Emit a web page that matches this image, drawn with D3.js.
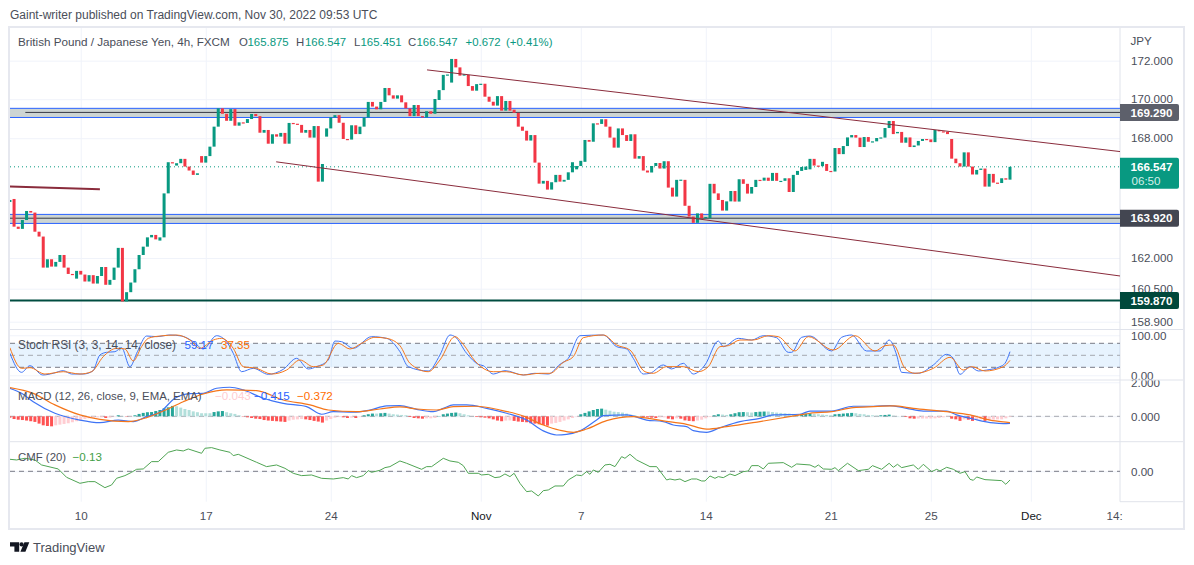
<!DOCTYPE html>
<html>
<head>
<meta charset="utf-8">
<script src="https://cdn.jsdelivr.net/npm/d3@7/dist/d3.min.js"></script>
<style>
    html, body {margin: 0; padding: 0; background: #fff;}
    svg {display: block;}
    text {font-family: "Liberation Sans", sans-serif; font-size: 12px;}
    .axis .domain {display: none;}
    .axis text {fill: #4a4e59; font-size: 11.6px;}
    .grid line {stroke: #f0f3fa;}
    .tag {font-weight: bold; font-size: 11.6px; text-anchor: middle;}
</style>
</head>
<body>
<div id="chart"></div>
<script>
// Candle closes, bar by bar. A bar opens at the previous close unless listed in gapOpens.
var closes = [164.88,163.55,163.44,163.88,164.33,164.25,163.30,163.06,161.53,161.94,
    161.58,161.81,162.15,161.53,161.22,161.19,161.37,161.19,160.85,161.16,
    160.75,161.12,161.56,160.69,160.93,161.53,162.50,159.88,160.33,160.80,
    161.45,162.15,162.56,163.02,163.14,162.92,163.02,165.21,166.78,166.73,
    166.73,166.95,166.56,166.36,166.14,166.22,166.76,167.09,167.57,168.59,
    169.53,169.25,168.89,169.49,168.64,168.81,168.78,168.98,169.24,169.13,
    168.28,168.42,167.72,168.20,168.08,168.27,167.72,168.78,168.74,168.73,
    168.28,168.42,168.03,168.62,165.80,166.69,168.50,169.06,169.18,168.79,
    167.96,167.93,168.66,168.21,168.59,169.06,169.86,169.62,169.48,169.86,
    170.58,170.20,170.03,170.20,169.84,169.53,169.13,169.70,169.13,169.06,
    169.38,169.25,170.01,170.47,171.26,171.28,172.09,171.65,171.22,171.29,
    170.68,170.44,170.78,170.80,170.13,169.87,169.67,170.16,169.41,169.91,
    169.41,169.30,168.59,168.38,167.88,168.16,166.76,165.70,165.84,165.40,
    165.77,166.14,165.80,165.89,166.27,166.78,166.59,166.85,167.91,167.82,
    168.76,168.73,168.97,168.59,168.03,167.52,168.50,168.16,167.86,168.20,
    166.96,167.09,166.36,166.26,166.59,166.74,166.46,166.83,165.50,165.05,
    165.89,165.90,164.59,164.05,163.74,164.21,163.97,164.03,165.69,165.21,
    164.88,164.35,164.81,165.33,164.80,165.92,165.69,165.20,165.53,165.89,
    165.85,166.00,165.84,166.24,165.84,165.84,165.97,165.28,166.14,166.34,
    166.54,166.56,166.95,166.61,166.58,166.80,166.34,166.31,167.50,167.19,
    167.60,168.04,168.16,168.03,167.55,168.06,167.82,167.84,168.01,168.04,
    168.52,168.88,168.21,168.32,167.77,168.04,167.55,167.63,167.86,167.96,
    167.94,167.80,168.42,168.35,168.33,168.21,166.96,166.73,166.56,167.28,
    166.56,166.16,166.39,166.46,165.55,166.19,165.75,165.73,165.97,165.90,
    166.547];

var gapOpens = {0:164.78, 1:164.93, 16:160.99, 36:162.86, 40:166.61, 46:167.09, 70:168.68, 76:168.08,
    103:169.96, 106:170.86, 110:171.26, 121:169.46, 136:166.42, 138:166.80, 162:165.89, 168:163.97,
    191:166.39, 192:166.42, 196:166.69, 210:168.03, 213:168.25, 226:167.96};

var priceTicks = [172, 170, 168, 162, 160.5, 158.9];
var timeTickBars = [17, 47, 77, 113, 137, 167, 197, 221, 245, 265];
var timeTickLabels = ["10", "17", "24", "Nov", "7", "14", "21", "25", "Dec", "14:"];

var lastPrice = 166.547;
var bandTops = [169.53, 164.16];
var bandBottoms = [169.06, 163.71];
var bandMids = [169.32, 163.97];
var bandMidStarts = [3.7, 0];
var floorLevel = 159.93;
var tagPrices = [169.32, 163.97, 159.93];
var tagLabels = ["169.290", "163.920", "159.870"];
var tagColors = ["#5d606b", "#434651", "#00483b"];

// Drawn trend lines: [bar, price] end points
var trendLines = [
    [[100.1, 171.52], [266.4, 167.32]],
    [[63.9, 166.80], [266.4, 161.12]],
    [[0, 165.55], [21.6, 165.42]]
];

// Stoch RSI, read at the turning points: [bar, value]
var stochK = [[0,55],[2.8,7.4],[4.8,24],[7.9,0.8],[10.4,5],[12.8,11.6],[14.8,3.2],[17.6,3.2],[19.9,10.8],[21.6,50.8],
    [23.2,57.4],[25.2,59],[26.8,69],[28.8,21.6],[30.6,59],[32.8,98.2],[35.2,96.6],[38.4,100.7],[41.2,98.2],[44,84],
    [46.4,65.8],[49.6,99],[52,84],[53.6,55],[55.6,9],[58.4,17.4],[62,2.4],[65.6,14.9],[68.8,42.4],[71.6,15.8],
    [73.6,21.6],[76.4,38.2],[78,85.7],[79.6,84],[82.4,67.4],[86.8,96.6],[90.4,92.4],[93.6,59],[95.6,21.6],[100.4,10.8],
    [103.2,50.8],[105.6,100.7],[106.8,96.6],[109.6,55],[112.4,27.4],[113.6,24],[116,3.2],[118.8,11.6],[123.2,0.8],[126,5],
    [129.2,3.2],[132,27.4],[134,42.4],[136.8,99],[142.4,100.7],[145.6,71.6],[148,65.8],[149.6,42.4],[152,3.2],[153.6,5],
    [156.8,25.8],[158.8,15.8],[161.6,30],[164,3.2],[166.8,25.8],[170,85.7],[171.2,71.6],[174.8,92.4],[178,88.2],[180.8,99],
    [184,94],[186.8,57.4],[187.6,57.4],[190,95],[192,98.2],[197.2,60.8],[199.6,95],[202,100.7],[205.6,60.8],[208.8,60.8],
    [211,88.2],[212.8,50.8],[214,7.4],[218,5],[221.6,25.8],[224.8,52.4],[226.4,42.4],[228,2.4],[230.4,21.6],[232.4,10.8],
    [234.4,13.2],[237.6,21.6],[238.8,30],[240,59.17]];

var stochD = [[0,69],[2.8,17.4],[4.8,19],[8.4,3.2],[12.8,9],[16.8,3.2],[19.6,9],[22.4,46.6],[25.6,67.4],[27.6,65.8],
    [29.6,35.8],[31.6,71.6],[33.2,92.4],[36,98.2],[40,100.7],[43.2,88.2],[45.6,67.4],[48.8,88.2],[50.8,92.4],[53.6,67.4],
    [56,21.6],[59.2,17.4],[62.8,3.2],[66.4,13.2],[69.6,38.2],[72.8,21.6],[75.2,25.8],[78.8,80],[81.6,65.8],[84.4,80],
    [87.6,95],[90.4,92.4],[93.6,74],[96,30],[100.4,9],[103.2,38.2],[106.8,96.6],[108.8,77.4],[111.6,35.8],[116,9],
    [119.2,9],[123.2,0.8],[127.2,5],[129.6,5],[132.8,32.4],[135.2,46.6],[137.6,94],[142.4,100.7],[145.6,75.8],[148.8,63.2],
    [152.4,9],[154.4,5],[157.6,21.6],[161.6,21.6],[165.2,9],[167.6,21.6],[170.4,71.6],[172.4,74],[175.2,88.2],[178.4,88.2],
    [182,99],[184.4,96.6],[188.4,60.8],[191.6,96.6],[197.6,63.2],[202.8,99],[207.6,60.8],[210,74],[212,75.8],[214.8,17.4],
    [217.2,5],[221.6,17.4],[225.6,45],[228.8,13.2],[230.8,21.6],[234,10.8],[238.4,21.6],[240,37.35]];

var stochTicks = [100, 0];
var stochBands = [80, 50, 20];

// MACD lines, read at the turning points: [bar, value]
var macdLine = [[0,1.65],[2.8,1.35],[5.6,.86],[10.8,.18],[16.8,-.22],[21.6,-.37],[26,-.22],[29.6,-.31],[32.8,-.02],[36,.24],
    [39.6,1.06],[43.2,1.33],[46.4,1.35],[49.6,1.65],[52.8,1.71],[56,1.55],[60.8,1.06],[65.6,.76],[71.2,.57],[74.8,.12],
    [77.6,.27],[82.4,.24],[86.4,.37],[90.4,.61],[93.6,.63],[97.6,.41],[101.6,.27],[104,.47],[106.4,.67],[109.6,.67],
    [114.4,.47],[119.2,.18],[124,-.22],[128,-.86],[131.2,-1.10],[133.6,-1.06],[136.8,-.86],[140.8,-.22],[142.4,.04],[148,.08],
    [152.8,-.22],[156.8,-.31],[159.2,-.51],[162.4,-.61],[164,-.84],[167.2,-.94],[170.4,-.67],[175.2,-.31],[180,-.12],[183.2,.08],
    [189.6,.12],[192,.31],[197.2,.31],[202.4,.59],[207.2,.59],[211.2,.63],[215.2,.47],[219.2,.31],[224.8,.31],[227.2,.08],
    [231.2,-.16],[236,-.39],[238.4,-.43],[240,-.415]];

var macdSignal = [[0,1.69],[5.6,1.35],[10.8,.67],[16.8,.08],[21.6,-.18],[28.4,-.31],[32.8,-.08],[36.8,.31],[41.6,.86],[46.4,1.31],
    [52,1.55],[59.2,1.51],[65.6,.96],[72,.67],[76.4,.37],[83.2,.27],[88.8,.43],[93.6,.55],[97.6,.43],[102.4,.37],
    [106.4,.57],[112,.59],[117.6,.37],[123.2,.02],[128,-.51],[132,-.82],[135.2,-.94],[138.4,-.75],[143.2,-.25],[149.6,-.02],
    [156.8,-.27],[162.4,-.47],[167.2,-.75],[172,-.61],[180,-.31],[189.6,.08],[192,.18],[197.2,.27],[202.4,.51],[207.2,.57],
    [212,.61],[216.8,.47],[224.8,.27],[230.4,.08],[235.2,-.22],[238.4,-.33],[240,-.372]];

// MACD histogram, bar by bar
var macdHist = [-.08,-.16,-.20,-.22,-.25,-.29,-.33,-.43,-.53,-.57,
    -.59,-.53,-.49,-.45,-.41,-.35,-.29,-.24,-.16,-.12,
    -.08,-.06,-.06,-.10,-.08,-.02,.06,.02,-.02,-.02,
    .06,.14,.20,.24,.25,.31,.37,.47,.53,.61,
    .59,.51,.43,.37,.29,.24,.18,.18,.18,.25,
    .29,.31,.24,.18,.14,.06,-.02,-.06,-.10,-.14,
    -.16,-.22,-.25,-.27,-.29,-.31,-.33,-.25,-.20,-.18,
    -.16,-.18,-.22,-.27,-.31,-.37,-.25,-.16,-.08,-.04,
    -.06,-.10,-.08,-.10,-.02,.06,.12,.16,.16,.18,
    .20,.16,.12,.10,.08,.06,-.04,-.10,-.12,-.14,
    -.12,-.12,-.10,.02,.12,.16,.20,.22,.18,.12,
    .06,0,-.04,-.06,-.08,-.12,-.18,-.25,-.29,-.25,
    -.24,-.27,-.31,-.33,-.35,-.41,-.43,-.47,-.51,-.55,
    -.43,-.39,-.33,-.25,-.18,-.10,-.02,.12,.20,.29,
    .37,.43,.45,.39,.33,.27,.25,.22,.16,.10,
    .06,0,-.04,-.06,-.08,-.10,-.06,-.06,-.14,-.18,
    -.12,-.14,-.24,-.27,-.29,-.25,-.20,-.12,-.04,.06,
    .12,.10,.08,.12,.18,.24,.25,.24,.22,.25,
    .27,.28,.28,.25,.22,.20,.18,.16,.14,.12,
    .14,.16,.18,.14,.12,.10,.08,.06,.12,.14,
    .16,.18,.20,.18,.14,.12,.08,.06,.04,.06,
    .08,.10,.04,.02,0,-.04,-.12,-.14,-.13,-.13,
    -.13,-.13,-.12,-.10,-.06,-.02,-.14,-.18,-.27,-.18,
    -.20,-.27,-.20,-.18,-.27,-.22,-.20,-.18,-.18,-.12,
    -.04];

var macdTicks = [2, 0];

// CMF, read at the turning points: [bar, value]
var cmfLine = [[0,.18],[1.6,.17],[3.6,.195],[6,.17],[7.6,.095],[11.6,.035],[13.6,-.09],[16.8,-.18],[18.8,-.155],[20.4,-.155],
    [22.8,-.245],[24.4,-.205],[25.6,-.105],[27.6,-.065],[29.2,-.015],[30.4,.03],[32,.035],[34,.145],[35.6,.145],[38,.285],
    [40,.32],[41.6,.305],[42.8,.335],[46,.27],[46.8,.345],[48.4,.355],[50.4,.32],[52.8,.285],[53.6,.235],[54.8,.255],
    [59.2,.135],[61.6,.07],[64,.095],[66,.045],[68,-.03],[70,-.065],[72.4,-.055],[74.8,-.105],[77.6,-.115],[80,-.095],
    [81.2,-.115],[82,-.065],[83.2,-.095],[84.8,-.065],[86,.01],[86.8,-.015],[88.8,.015],[90,.055],[91.2,.07],[93.6,.155],
    [95.2,.12],[98.8,.03],[100,.07],[101.2,.07],[104,.195],[105.6,.155],[107.6,.135],[108.8,.085],[110,-.03],[112.4,-.03],
    [113.2,-.055],[114.8,-.045],[116.4,-.095],[117.6,-.085],[118.8,-.04],[120,-.08],[121,-.03],[122.4,-.18],[124,-.305],[125.2,-.295],
    [126.8,-.37],[128,-.29],[129.2,-.28],[130.8,-.22],[132.8,-.22],[134,-.13],[136,-.055],[137.2,-.065],[138.4,-.005],[139.2,-.045],
    [140,.02],[141.2,-.015],[142.8,.095],[144,.105],[145.2,.07],[146.8,.22],[147.6,.195],[148.8,.255],[150.4,.17],[153.6,.07],
    [155.2,.07],[157.6,-.13],[158.4,-.115],[159.6,-.13],[160.8,-.115],[162,-.155],[163.6,-.115],[164.8,-.115],[166,-.145],[166.8,-.145],
    [168,-.07],[169.2,-.105],[170,-.08],[171.2,-.095],[172.8,-.04],[174,-.065],[176,-.005],[177.2,.005],[178,.085],[179.6,.085],
    [180.8,.035],[182,.12],[185.6,.13],[187.6,.06],[188.8,.11],[192,.095],[193.2,.06],[194,.095],[195.2,.035],[197.2,.03],
    [198,.055],[198.8,.01],[201,.12],[203.6,.01],[206,.03],[207,.085],[209.2,.03],[211,.12],[212,.06],[213,.105],
    [214,.055],[216.8,.095],[218,.03],[219.2,.105],[221.2,-.005],[222.4,.03],[223.2,.005],[224.8,.06],[226.4,.03],[228,-.03],
    [229.2,-.005],[230.4,-.12],[231.2,-.135],[232,-.085],[234,-.125],[238,-.14],[239,-.195],[240,-.13]];

var cmfTicks = [0];

var width = 1194, height = 565;
var green = "#089981", red = "#f23645";
var blue = "#3f74f5", orange = "#f5761a", cmfGreen = "#4fa453";

var svg = d3.select("#chart").append("svg").attr("width", width).attr("height", height);

// page geometry
var frame = {left: 10, right: 1184, top: 28, bottom: 529};
var plotRight = 1120;
var panes = {
    price: [28, 329.5],
    stoch: [329.5, 380],
    macd: [380, 441.7],
    cmf: [441.7, 501.7]
};

var x = d3.scaleLinear().domain([0, 240]).range([9.9, 1010]);
var yPrice = d3.scaleLog().domain([158.9, 172]).range([321.7, 60.67]);
var yStoch = d3.scaleLinear().domain([0, 100]).range([375.3, 335.3]);
var yMacd = d3.scaleLinear().domain([0, 2]).range([416.3, 382.3]);
var yCmf = d3.scaleLinear().domain([0, 1]).range([471.3, 404.6]);

var defs = svg.append("defs");
function addClip(id, top, bottom, left, right) {
    defs.append("clipPath").attr("id", id).append("rect")
        .attr("x", left).attr("y", top).attr("width", right - left).attr("height", bottom - top);
}
addClip("clip-price", panes.price[0], panes.price[1], frame.left, plotRight);
addClip("clip-all", frame.top, panes.cmf[1], frame.left, plotRight);
addClip("clip-macd-axis", panes.macd[0], panes.macd[1], frame.left, frame.right);

// right hand axes double as the horizontal grid
function rightAxis(parent, scale, ticks, fmt) {
    var g = parent.append("g").attr("class", "axis grid")
        .attr("transform", "translate(" + plotRight + ",0)")
        .call(d3.axisRight(scale).tickValues(ticks).tickFormat(fmt).tickSize(frame.left - plotRight));
    g.selectAll("text").attr("x", 11);
    return g;
}

// vertical grid and time labels
var timeAxis = d3.axisBottom(x).tickValues(timeTickBars)
    .tickFormat(function (d, i) { return timeTickLabels[i]; })
    .tickSize(panes.cmf[1] - frame.top).tickPadding(10);
var tg = svg.append("g").attr("class", "axis grid")
    .attr("transform", "translate(0," + frame.top + ")")
    .call(timeAxis);
tg.selectAll("text").style("fill", function (d, i) {
    return /[A-Z]/.test(timeTickLabels[i]) ? "#131722" : "#4a4e59";
});
tg.selectAll("line").filter(function (d) { return x(d) > plotRight - 10; }).remove();

rightAxis(svg, yPrice, priceTicks, d3.format(".3f"));
rightAxis(svg, yStoch, stochTicks, d3.format(".2f"));
rightAxis(svg.append("g").attr("clip-path", "url(#clip-macd-axis)"), yMacd, macdTicks, d3.format(".3f"));
rightAxis(svg, yCmf, cmfTicks, d3.format(".2f"));

// pane separators and frame
svg.append("g").selectAll("line").data([panes.stoch[0], panes.stoch[1], panes.macd[1], panes.cmf[1]]).enter().append("line")
    .attr("x1", function (d) { return d == panes.cmf[1] ? plotRight : frame.left; })
    .attr("x2", frame.right)
    .attr("y1", function (d) { return d; }).attr("y2", function (d) { return d; })
    .attr("stroke", "#e0e3eb");
svg.append("line").attr("x1", plotRight).attr("x2", plotRight).attr("y1", frame.top).attr("y2", panes.cmf[1]).attr("stroke", "#e0e3eb");
svg.append("rect").attr("x", frame.left - 1).attr("y", frame.top - 1)
    .attr("width", frame.right - frame.left + 1).attr("height", frame.bottom - frame.top + 1)
    .attr("fill", "none").attr("stroke", "#e6e8ef").attr("stroke-width", 2);

var plot = svg.append("g").attr("clip-path", "url(#clip-price)");

// horizontal zones
bandTops.forEach(function (top, i) {
    plot.append("rect").attr("x", frame.left).attr("width", plotRight - frame.left)
        .attr("y", yPrice(top)).attr("height", yPrice(bandBottoms[i]) - yPrice(top))
        .attr("fill", "#cdd5d3");
    [top, bandBottoms[i]].forEach(function (p) {
        plot.append("line").attr("x1", frame.left).attr("x2", plotRight)
            .attr("y1", yPrice(p)).attr("y2", yPrice(p))
            .attr("stroke", "#2962ff").attr("stroke-width", 1);
    });
    plot.append("line").attr("x1", x(bandMidStarts[i])).attr("x2", plotRight)
        .attr("y1", yPrice(bandMids[i])).attr("y2", yPrice(bandMids[i]))
        .attr("stroke", "#363a45").attr("stroke-width", 1);
});
plot.append("line").attr("x1", frame.left).attr("x2", plotRight)
    .attr("y1", yPrice(floorLevel)).attr("y2", yPrice(floorLevel))
    .attr("stroke", "#004d40").attr("stroke-width", 2);

// last price line
plot.append("line").attr("x1", frame.left).attr("x2", plotRight)
    .attr("y1", yPrice(lastPrice)).attr("y2", yPrice(lastPrice))
    .attr("stroke", green).attr("stroke-dasharray", "1 3");

// candles
var candles = closes.map(function (c, i) {
    var o = gapOpens[i] !== undefined ? gapOpens[i] : closes[i - 1];
    return {bar: i, open: o, close: c};
});
plot.selectAll(".candle").data(candles).enter().append("rect")
    .attr("class", "candle")
    .attr("x", function (d) { return x(d.bar) - 1.5; })
    .attr("width", 3)
    .attr("y", function (d) { return Math.min(yPrice(d.open), yPrice(d.close)); })
    .attr("height", function (d) { return Math.max(1.2, Math.abs(yPrice(d.open) - yPrice(d.close))); })
    .attr("fill", function (d) { return d.close >= d.open ? green : red; });

// trend lines
var trend = d3.line().x(function (d) { return x(d[0]); }).y(function (d) { return yPrice(d[1]); });
plot.selectAll(".trend").data(trendLines).enter().append("path")
    .attr("class", "trend")
    .attr("d", trend).attr("fill", "none")
    .attr("stroke", "#8a2c3c")
    .attr("stroke-width", function (d, i) { return i == 2 ? 2 : 1; });

var lower = svg.append("g").attr("clip-path", "url(#clip-all)");

// stoch background
lower.append("rect").attr("x", frame.left).attr("width", plotRight - frame.left)
    .attr("y", yStoch(stochBands[0])).attr("height", yStoch(stochBands[2]) - yStoch(stochBands[0]))
    .attr("fill", "#2196f3").attr("fill-opacity", 0.11);
lower.selectAll(".band").data(stochBands).enter().append("line")
    .attr("class", "band")
    .attr("x1", frame.left).attr("x2", plotRight)
    .attr("y1", function (d) { return yStoch(d); }).attr("y2", function (d) { return yStoch(d); })
    .attr("stroke", function (d) { return d == 50 ? "#a6a8b0" : "#787b86"; })
    .attr("stroke-dasharray", "5 4");

function seriesLine(data, yScale, color, curve, lineWidth) {
    var line = d3.line().curve(curve).x(function (d) { return x(d[0]); }).y(function (d) { return yScale(d[1]); });
    lower.append("path").datum(data).attr("d", line)
        .attr("fill", "none").attr("stroke", color).attr("stroke-width", lineWidth)
        .attr("stroke-linejoin", "round");
}
seriesLine(stochK, yStoch, blue, d3.curveMonotoneX, 1);
seriesLine(stochD, yStoch, orange, d3.curveMonotoneX, 1);

// MACD
lower.append("line").attr("x1", frame.left).attr("x2", plotRight)
    .attr("y1", yMacd(0)).attr("y2", yMacd(0))
    .attr("stroke", "#a6a8b0").attr("stroke-dasharray", "5 4");
lower.selectAll(".hist").data(macdHist).enter().append("rect")
    .attr("class", "hist")
    .attr("x", function (d, i) { return x(i) - 1.5; })
    .attr("width", 3)
    .attr("y", function (d) { return Math.min(yMacd(0), yMacd(d)); })
    .attr("height", function (d) { return Math.abs(yMacd(d) - yMacd(0)); })
    .attr("fill", function (d, i) {
        var prev = i > 0 ? macdHist[i - 1] : 0;
        if (d >= 0) return d > prev ? "#26a69a" : "#b2dfdb";
        return d < prev ? "#ff5252" : "#ffcdd2";
    });
seriesLine(macdLine, yMacd, blue, d3.curveMonotoneX, 1.2);
seriesLine(macdSignal, yMacd, orange, d3.curveMonotoneX, 1.2);

// CMF
lower.append("line").attr("x1", frame.left).attr("x2", plotRight)
    .attr("y1", yCmf(0)).attr("y2", yCmf(0))
    .attr("stroke", "#787b86").attr("stroke-dasharray", "5 4");
seriesLine(cmfLine, yCmf, cmfGreen, d3.curveLinear, 1);

// price tags on the axis
tagPrices.forEach(function (p, i) {
    var cy = yPrice(p);
    svg.append("path")
        .attr("d", "M" + plotRight + "," + (cy - 8.5) + "H1177a2,2 0 0 1 2,2V" + (cy + 6.5) + "a2,2 0 0 1 -2,2H" + plotRight + "Z")
        .attr("fill", tagColors[i]);
    svg.append("text").attr("class", "tag").attr("x", 1151.5).attr("y", cy + 4.2).attr("fill", "#fff").text(tagLabels[i]);
});
var lastY = yPrice(lastPrice);
svg.append("path")
    .attr("d", "M" + plotRight + "," + (lastY - 9) + "H1177a2,2 0 0 1 2,2V" + (lastY + 20) + "a2,2 0 0 1 -2,2H" + plotRight + "Z")
    .attr("fill", green);
svg.append("text").attr("class", "tag").attr("x", 1151.5).attr("y", lastY + 4.2).attr("fill", "#fff").text("166.547");
svg.append("text").attr("class", "tag").style("font-weight", "normal").attr("x", 1146).attr("y", lastY + 18.5).attr("fill", "#d5efe9").text("06:50");

svg.append("text").attr("x", 1130.5).attr("y", 45).attr("fill", "#4a4e59").style("font-size", "11.6px").text("JPY");

// legends: text, x, y, colour, size
var labels = [
    ["Gaint-writer published on TradingView.com, Nov 30, 2022 09:53 UTC", 10, 19, "#4a4e59", 12],
    ["British Pound / Japanese Yen, 4h, FXCM", 18, 46, "#4a4e59", 11.7],
    ["O", 239, 46, "#4a4e59", 11.4], ["165.875", 247.5, 46, green, 11.4],
    ["H", 296, 46, "#4a4e59", 11.4], ["166.547", 305, 46, green, 11.4],
    ["L", 354, 46, "#4a4e59", 11.4], ["165.451", 360.5, 46, green, 11.4],
    ["C", 408, 46, "#4a4e59", 11.4], ["166.547", 416.5, 46, green, 11.4],
    ["+0.672", 465.5, 46, green, 11.4], ["(+0.41%)", 506, 46, green, 11.4],
    ["Stoch RSI (3, 3, 14, 14, close)", 18, 349, "#4a4e59", 11.85],
    ["59.17", 184.5, 349, "#2962ff", 11.6], ["37.35", 221, 349, "#ff6d00", 11.6],
    ["MACD (12, 26, close, 9, EMA, EMA)", 18, 400, "#4a4e59", 11.4],
    ["\u22120.043", 215, 400, "#ffcdd2", 11.6], ["\u22120.415", 254, 400, "#2962ff", 11.6], ["\u22120.372", 297, 400, "#ff6d00", 11.6],
    ["CMF (20)", 18, 461, "#4a4e59", 11.4], ["\u22120.13", 72.5, 461, "#43a047", 11.6]
];
svg.append("g").selectAll("text").data(labels).enter().append("text")
    .attr("x", function (d) { return d[1]; })
    .attr("y", function (d) { return d[2]; })
    .attr("fill", function (d) { return d[3]; })
    .style("font-size", function (d) { return d[4] + "px"; })
    .text(function (d) { return d[0]; });

// TradingView mark
svg.append("path")
    .attr("d", "M10,542.3H19.2V551.7H14.4V546.6H10Z M24.4,542.3H29.3L25.4,551.7H20.4Z")
    .attr("fill", "#131722");
svg.append("circle").attr("cx", 21.6).attr("cy", 544.4).attr("r", 2.1).attr("fill", "#131722");
svg.append("text").attr("x", 33).attr("y", 552).attr("fill", "#4a4e59").style("font-size", "13px").text("TradingView");
</script>
</body>
</html>
